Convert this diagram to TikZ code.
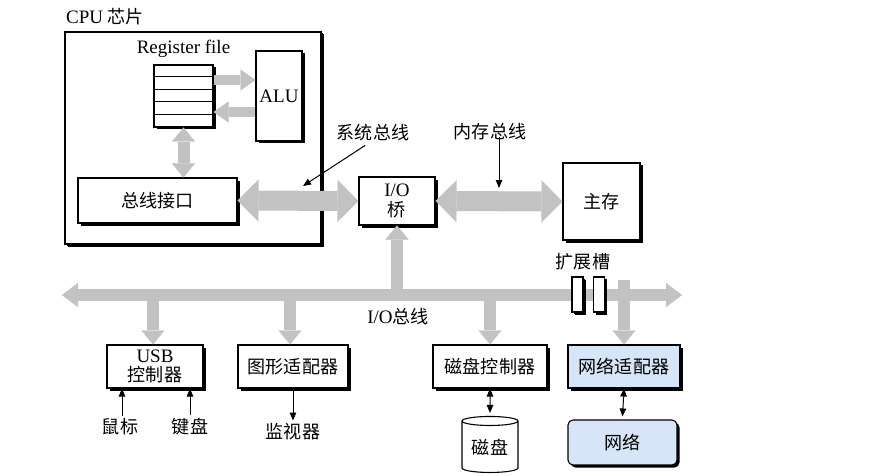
\documentclass[tikz,border=0pt]{standalone}
\usepackage{fontspec}
\setmainfont{Liberation Serif}
\newfontfamily\cjk[Scale=0.95]{Noto Sans CJK SC}
\usetikzlibrary{arrows.meta,positioning,shadows,shapes.geometric}
\definecolor{busgray}{RGB}{194,194,194}
\definecolor{netblue}{RGB}{214,230,248}

\begin{document}
\begin{tikzpicture}[x=1pt,y=-1pt,font=\fontsize{19}{21}\selectfont,node distance=4pt,
    box/.style={draw,line width=1.1pt,fill=white,inner sep=0pt,align=center,
        drop shadow={shadow xshift=2.5pt,shadow yshift=-2.5pt,fill=black,opacity=1}},
    netbox/.style={box,fill=netblue},
    fat/.style n args={3}{draw=busgray,line width=#1,
        >={Triangle[length=#2,width=#3,line width=0.1pt]}},
    ptr/.style={line width=1pt,>={Triangle[length=8pt,width=6.5pt]}}]

    \useasboundingbox (0,0) rectangle (881,476);

    % CPU chip
    \node[box,drop shadow={shadow xshift=1.5pt,shadow yshift=-1.5pt,fill=black,opacity=1},
          minimum width=256pt,minimum height=212pt] (cpu) at (193,138) {};
    \node[anchor=west,inner sep=0pt] (cpulabel) at (66,17) {CPU {\cjk 芯片}};

    \node[box,minimum width=59pt,minimum height=62pt] (regfile) at (183.5,96) {};
    \foreach \i in {1,...,4}
        \draw[line width=0.8pt] ([yshift=-\i*12.4pt]regfile.north west) -- ([yshift=-\i*12.4pt]regfile.north east);
    \node[inner sep=0pt] (reglabel) [above=7pt of regfile] {Register file};
    \node[box,minimum width=46pt,minimum height=90pt] (alu) at (279,96) {ALU};
    \node[box,minimum width=159pt,minimum height=45pt] (busif) at (157.5,200.5) {\cjk 总线接口};

    % bridge and memory
    \node[box,minimum width=76pt,minimum height=48pt,font=\fontsize{19}{20}\selectfont] (bridge) at (397,201) {I/O\\{\cjk 桥}};
    \node[box,minimum width=77pt,minimum height=77pt] (mem) at (601.5,201.5) {\cjk 主存};

    \draw[fat={10pt}{15pt}{21pt},->] ([yshift=16pt]regfile.east) -- ([yshift=16pt]alu.west);
    \draw[fat={10pt}{15pt}{21pt},->] ([yshift=-16pt]alu.west) -- ([yshift=-16pt]regfile.east);
    \draw[fat={12pt}{14pt}{23pt},<->] (regfile.south) -- (regfile.south |- busif.north);
    \draw[fat={20pt}{21pt}{42pt},<->] (busif.east) -- (bridge.west);
    \draw[fat={20pt}{21pt}{42pt},<->] (bridge.east) -- (mem.west);

    \node[inner sep=0pt] (syslabel) at (373,133) {\cjk 系统总线};
    \coordinate (syspt) at (303,186);
    \draw[ptr,->] ([xshift=-8pt,yshift=-4pt]syslabel.south) -- (syspt);
    \node[inner sep=0pt] (memlabel) at (490,132) {\cjk 内存总线};
    \coordinate (mempt) at (499,188);
    \draw[ptr,->] (memlabel.south -| mempt) ++(0,-4) -- (mempt);

    % I/O bus
    \coordinate (busleft) at (62,295);
    \coordinate (busright) at (682,295);
    \draw[fat={12pt}{16pt}{24pt},<->] (busleft) -- (busright);
    \draw[fat={12pt}{14pt}{23pt},->] (bridge.south |- busleft) -- (bridge.south);
    \node[inner sep=0pt] (buslabel) at (398,317) {I/O{\cjk 总线}};

    \node[box,drop shadow={shadow xshift=2pt,shadow yshift=-2pt,fill=black,opacity=1},
          minimum width=11pt,minimum height=35pt] (slotA) at (577.5,294.5) {};
    \node[box,drop shadow={shadow xshift=2pt,shadow yshift=-2pt,fill=black,opacity=1},
          minimum width=11pt,minimum height=35pt] (slotB) at (599,294.5) {};
    \node[inner sep=0pt] (slotlabel) at (583,262) {\cjk 扩展槽};

    % devices
    \node[box,minimum width=96pt,minimum height=43pt,font=\fontsize{19}{19}\selectfont] (usb) at (155,366.5) {USB\\{\cjk 控制器}};
    \node[box,minimum width=110pt,minimum height=43pt] (gfx) at (293,366.5) {\cjk 图形适配器};
    \node[box,minimum width=114pt,minimum height=43pt] (diskctl) at (490,366.5) {\cjk 磁盘控制器};
    \node[netbox,minimum width=112pt,minimum height=43pt] (netad) at (624,366.5) {\cjk 网络适配器};

    \draw[fat={12pt}{14pt}{23pt},->] ([xshift=-2pt]usb.north |- busleft) -- ([xshift=-2pt]usb.north);
    \draw[fat={12pt}{14pt}{23pt},->] ([xshift=-3pt]gfx.north |- busleft) -- ([xshift=-3pt]gfx.north);
    \draw[fat={12pt}{14pt}{23pt},->] (diskctl.north |- busleft) -- (diskctl.north);
    \draw[fat={12pt}{14pt}{23pt},->] ([yshift=15pt]netad.north |- busleft) -- (netad.north);

    \node[inner sep=0pt] (mouse) at (120,427) {\cjk 鼠标};
    \node[inner sep=0pt] (keyb) at (190,427) {\cjk 键盘};
    \node[inner sep=0pt] (monitor) at (293,432) {\cjk 监视器};
    \draw[ptr,->] ([xshift=2pt,yshift=3pt]mouse.north) -- ([xshift=2pt]mouse.north |- usb.south);
    \draw[ptr,->] ([yshift=3pt]keyb.north) -- (keyb.north |- usb.south);
    \draw[ptr,->] (gfx.south) -- ([yshift=3pt]monitor.north);

    \node[cylinder,shape border rotate=90,aspect=0.25,draw,line width=1.1pt,fill=white,
          minimum width=56pt,minimum height=56pt,inner sep=0pt] (disk) at (490,447) {\cjk 磁盘};
    \draw[ptr,<->] (diskctl.south) -- ([yshift=3pt]disk.north);

    \node[netbox,rounded corners=5pt,minimum width=109pt,minimum height=45pt] (net) at (622.5,442.5) {\cjk 网络};
    \draw[ptr,<->] (netad.south) -- ([yshift=3pt]net.north);

\end{tikzpicture}
\end{document}
